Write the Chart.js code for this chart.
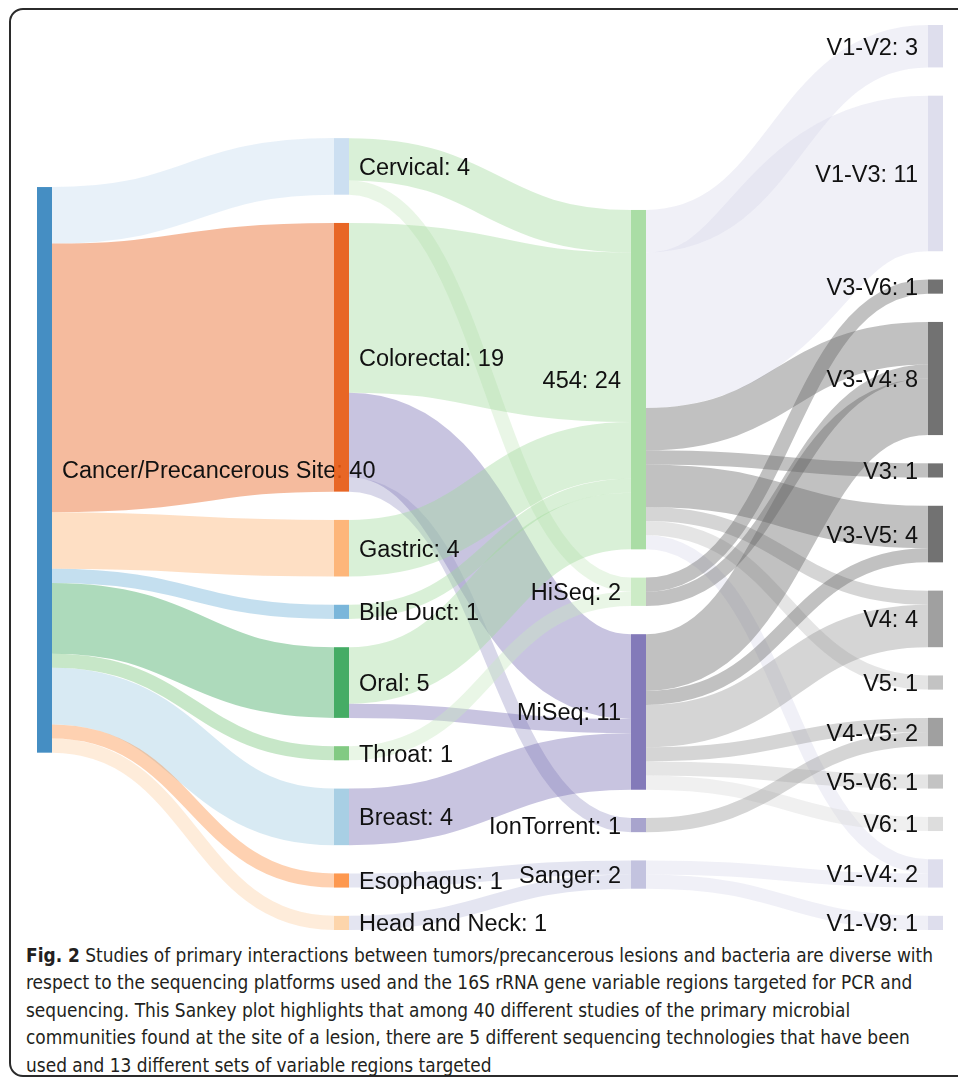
<!DOCTYPE html>
<html>
<head>
<meta charset="utf-8">
<script src="https://cdn.jsdelivr.net/npm/chart.js@4.4.0/dist/chart.umd.min.js"></script>
<style>
	html, body { margin: 0; padding: 0; background: #fff; }
	body { width: 958px; height: 1083px; position: relative; overflow: hidden; }
	.frame {
		position: absolute; left: 9px; top: 8px; width: 1000px; height: 1069px;
		border: 2px solid #2b2b2b; border-radius: 14px; box-sizing: border-box;
	}
	#chart-wrap { position: absolute; left: 0; top: 0; width: 958px; height: 940px; }
	.caption {
		position: absolute; left: 26px; top: 942px;
		font-family: "Liberation Sans Narrow", "DejaVu Sans Condensed", "Open Sans", sans-serif;
		font-size: 19px; line-height: 27.4px; color: #231f20;
		white-space: nowrap; transform-origin: 0 0;
	}
	.caption b { font-weight: bold; }
</style>
</head>
<body>
<div class="frame"></div>
<div id="chart-wrap"><canvas id="sankey" width="958" height="940"></canvas></div>
<div class="caption" id="caption">
	<span class="line"><b>Fig. 2</b> Studies of primary interactions between tumors/precancerous lesions and bacteria are diverse with</span><br>
	<span class="line">respect to the sequencing platforms used and the 16S rRNA gene variable regions targeted for PCR and</span><br>
	<span class="line">sequencing. This Sankey plot highlights that among 40 different studies of the primary microbial</span><br>
	<span class="line">communities found at the site of a lesion, there are 5 different sequencing technologies that have been</span><br>
	<span class="line">used and 13 different sets of variable regions targeted</span>
</div>
<script>
// data
const rootName = 'Cancer/Precancerous Site';
const sites = ['Cervical', 'Colorectal', 'Gastric', 'Bile Duct', 'Oral', 'Throat', 'Breast', 'Esophagus', 'Head and Neck'];
const siteStudies = [4, 19, 4, 1, 5, 1, 4, 1, 1];
const platforms = ['454', 'HiSeq', 'MiSeq', 'IonTorrent', 'Sanger'];
const regions = ['V1-V2', 'V1-V3', 'V3-V6', 'V3-V4', 'V3', 'V3-V5', 'V4', 'V5', 'V4-V5', 'V5-V6', 'V6', 'V1-V4', 'V1-V9'];

// [site, platform, studies]
const sitePlatform = [
	['Cervical', '454', 3], ['Cervical', 'HiSeq', 1],
	['Colorectal', '454', 12], ['Colorectal', 'MiSeq', 6], ['Colorectal', 'IonTorrent', 1],
	['Gastric', '454', 4],
	['Bile Duct', '454', 1],
	['Oral', '454', 4], ['Oral', 'MiSeq', 1],
	['Throat', 'HiSeq', 1],
	['Breast', 'MiSeq', 4],
	['Esophagus', 'Sanger', 1],
	['Head and Neck', 'Sanger', 1]
];

// [platform, region, studies]
const platformRegion = [
	['454', 'V1-V2', 3], ['454', 'V1-V3', 11], ['454', 'V3-V4', 3], ['454', 'V3', 1],
	['454', 'V3-V5', 3], ['454', 'V4', 1], ['454', 'V5', 1], ['454', 'V1-V4', 1],
	['HiSeq', 'V3-V6', 1], ['HiSeq', 'V3-V4', 1],
	['MiSeq', 'V3-V4', 4], ['MiSeq', 'V3-V5', 1], ['MiSeq', 'V4', 3],
	['MiSeq', 'V4-V5', 1], ['MiSeq', 'V5-V6', 1], ['MiSeq', 'V6', 1],
	['IonTorrent', 'V4-V5', 1],
	['Sanger', 'V1-V4', 1], ['Sanger', 'V1-V9', 1]
];

// styles
const nodeColors = {
	'Cancer/Precancerous Site': '#3182bd',
	'Cervical': '#c6dbef', 'Colorectal': '#e6550d', 'Gastric': '#fdae6b', 'Bile Duct': '#6baed6',
	'Oral': '#31a354', 'Throat': '#74c476', 'Breast': '#9ecae1', 'Esophagus': '#fd8d3c', 'Head and Neck': '#fdd0a2',
	'454': '#a1d99b', 'HiSeq': '#c7e9c0', 'MiSeq': '#756bb1', 'IonTorrent': '#9e9ac8', 'Sanger': '#bcbddc',
	'V1-V2': '#dadaeb', 'V1-V3': '#dadaeb', 'V3-V6': '#636363', 'V3-V4': '#636363', 'V3': '#636363',
	'V3-V5': '#636363', 'V4': '#969696', 'V5': '#bdbdbd', 'V4-V5': '#969696', 'V5-V6': '#bdbdbd',
	'V6': '#d9d9d9', 'V1-V4': '#dadaeb', 'V1-V9': '#dadaeb'
};
const columnTop = [11.46, 8, 13.08, 0]; // in study units
const nodePadding = 2;
const nodeWidth = 15;
const labelGap = 10;

// layout, in study units
function build_layout() {
	let nodes = {};
	let columns = [[rootName], sites, platforms, regions];
	columns.forEach((names, col) => names.forEach(name => {
		nodes[name] = {name, col, inLinks: [], outLinks: []};
	}));
	let links = [];
	sites.forEach((s, i) => links.push({source: nodes[rootName], target: nodes[s], value: siteStudies[i]}));
	sitePlatform.concat(platformRegion).forEach(([s, t, v]) => {
		links.push({source: nodes[s], target: nodes[t], value: v});
	});
	links.forEach(l => { l.source.outLinks.push(l); l.target.inLinks.push(l); });

	columns.forEach((names, col) => {
		let y = columnTop[col];
		names.forEach(name => {
			let n = nodes[name];
			let inSum = n.inLinks.reduce((a, l) => a + l.value, 0);
			let outSum = n.outLinks.reduce((a, l) => a + l.value, 0);
			n.value = Math.max(inSum, outSum);
			n.y = y;
			y += n.value + nodePadding;
		});
	});

	Object.values(nodes).forEach(n => {
		n.outLinks.sort((a, b) => a.target.y - b.target.y);
		n.inLinks.sort((a, b) => a.source.y - b.source.y);
		let sy = 0, ty = 0;
		n.outLinks.forEach(l => { l.sy = sy; sy += l.value; });
		n.inLinks.forEach(l => { l.ty = ty; ty += l.value; });
	});
	return {columns, nodes, links};
}

const layout = build_layout();

function with_alpha(hex, a) {
	let r = parseInt(hex.slice(1, 3), 16), g = parseInt(hex.slice(3, 5), 16), b = parseInt(hex.slice(5, 7), 16);
	return `rgba(${r},${g},${b},${a})`;
}

const sankeyPlugin = {
	id: 'sankey',
	afterDatasetsDraw(chart) {
		const ctx = chart.ctx;
		const x = chart.scales.x, y = chart.scales.y;
		const unit = Math.abs(y.getPixelForValue(1) - y.getPixelForValue(0));
		ctx.save();

		// links
		layout.links.forEach(l => {
			let x0 = x.getPixelForValue(l.source.col) + nodeWidth;
			let x1 = x.getPixelForValue(l.target.col);
			let xi = x0 + (x1 - x0) * 0.5;
			let y0 = y.getPixelForValue(l.source.y + l.sy + l.value / 2);
			let y1 = y.getPixelForValue(l.target.y + l.ty + l.value / 2);
			ctx.beginPath();
			ctx.moveTo(x0, y0);
			ctx.bezierCurveTo(xi, y0, xi, y1, x1, y1);
			ctx.lineWidth = Math.max(1, l.value * unit);
			ctx.lineCap = 'butt';
			ctx.strokeStyle = with_alpha(nodeColors[l.target.name], 0.4);
			ctx.stroke();
		});

		// nodes and labels
		ctx.font = '23.5px "Liberation Sans", Arial, Helvetica, sans-serif';
		ctx.textBaseline = 'middle';
		layout.columns.forEach((names, col) => names.forEach(name => {
			let n = layout.nodes[name];
			let left = x.getPixelForValue(col);
			let top = y.getPixelForValue(n.y);
			let bottom = y.getPixelForValue(n.y + n.value);
			ctx.globalAlpha = 0.9;
			ctx.fillStyle = nodeColors[name];
			ctx.fillRect(left, top, nodeWidth, bottom - top);
			ctx.globalAlpha = 1;
			ctx.fillStyle = '#111';
			let text = name + ': ' + n.value;
			if (col < 2) {
				ctx.textAlign = 'left';
				ctx.fillText(text, left + nodeWidth + labelGap, (top + bottom) / 2 + 2);
			} else {
				ctx.textAlign = 'right';
				ctx.fillText(text, left - labelGap, (top + bottom) / 2 + 2);
			}
		}));
		ctx.restore();
	}
};

new Chart(document.getElementById('sankey'), {
	type: 'scatter',
	data: { datasets: [{ data: [] }] },
	options: {
		responsive: false,
		animation: false,
		devicePixelRatio: 1,
		layout: { padding: { left: 37, right: 30, top: 25, bottom: 10 } },
		scales: {
			x: { type: 'linear', min: 0, max: 3, display: false },
			y: { type: 'linear', min: 0, max: 64, reverse: true, display: false }
		},
		plugins: { legend: { display: false }, tooltip: { enabled: false } }
	},
	plugins: [sankeyPlugin]
});

// fit the caption to the figure width
const caption = document.getElementById('caption');
const firstLine = caption.querySelector('.line');
const scale = 907 / firstLine.getBoundingClientRect().width;
caption.style.transform = `scaleX(${scale})`;
</script>
</body>
</html>
